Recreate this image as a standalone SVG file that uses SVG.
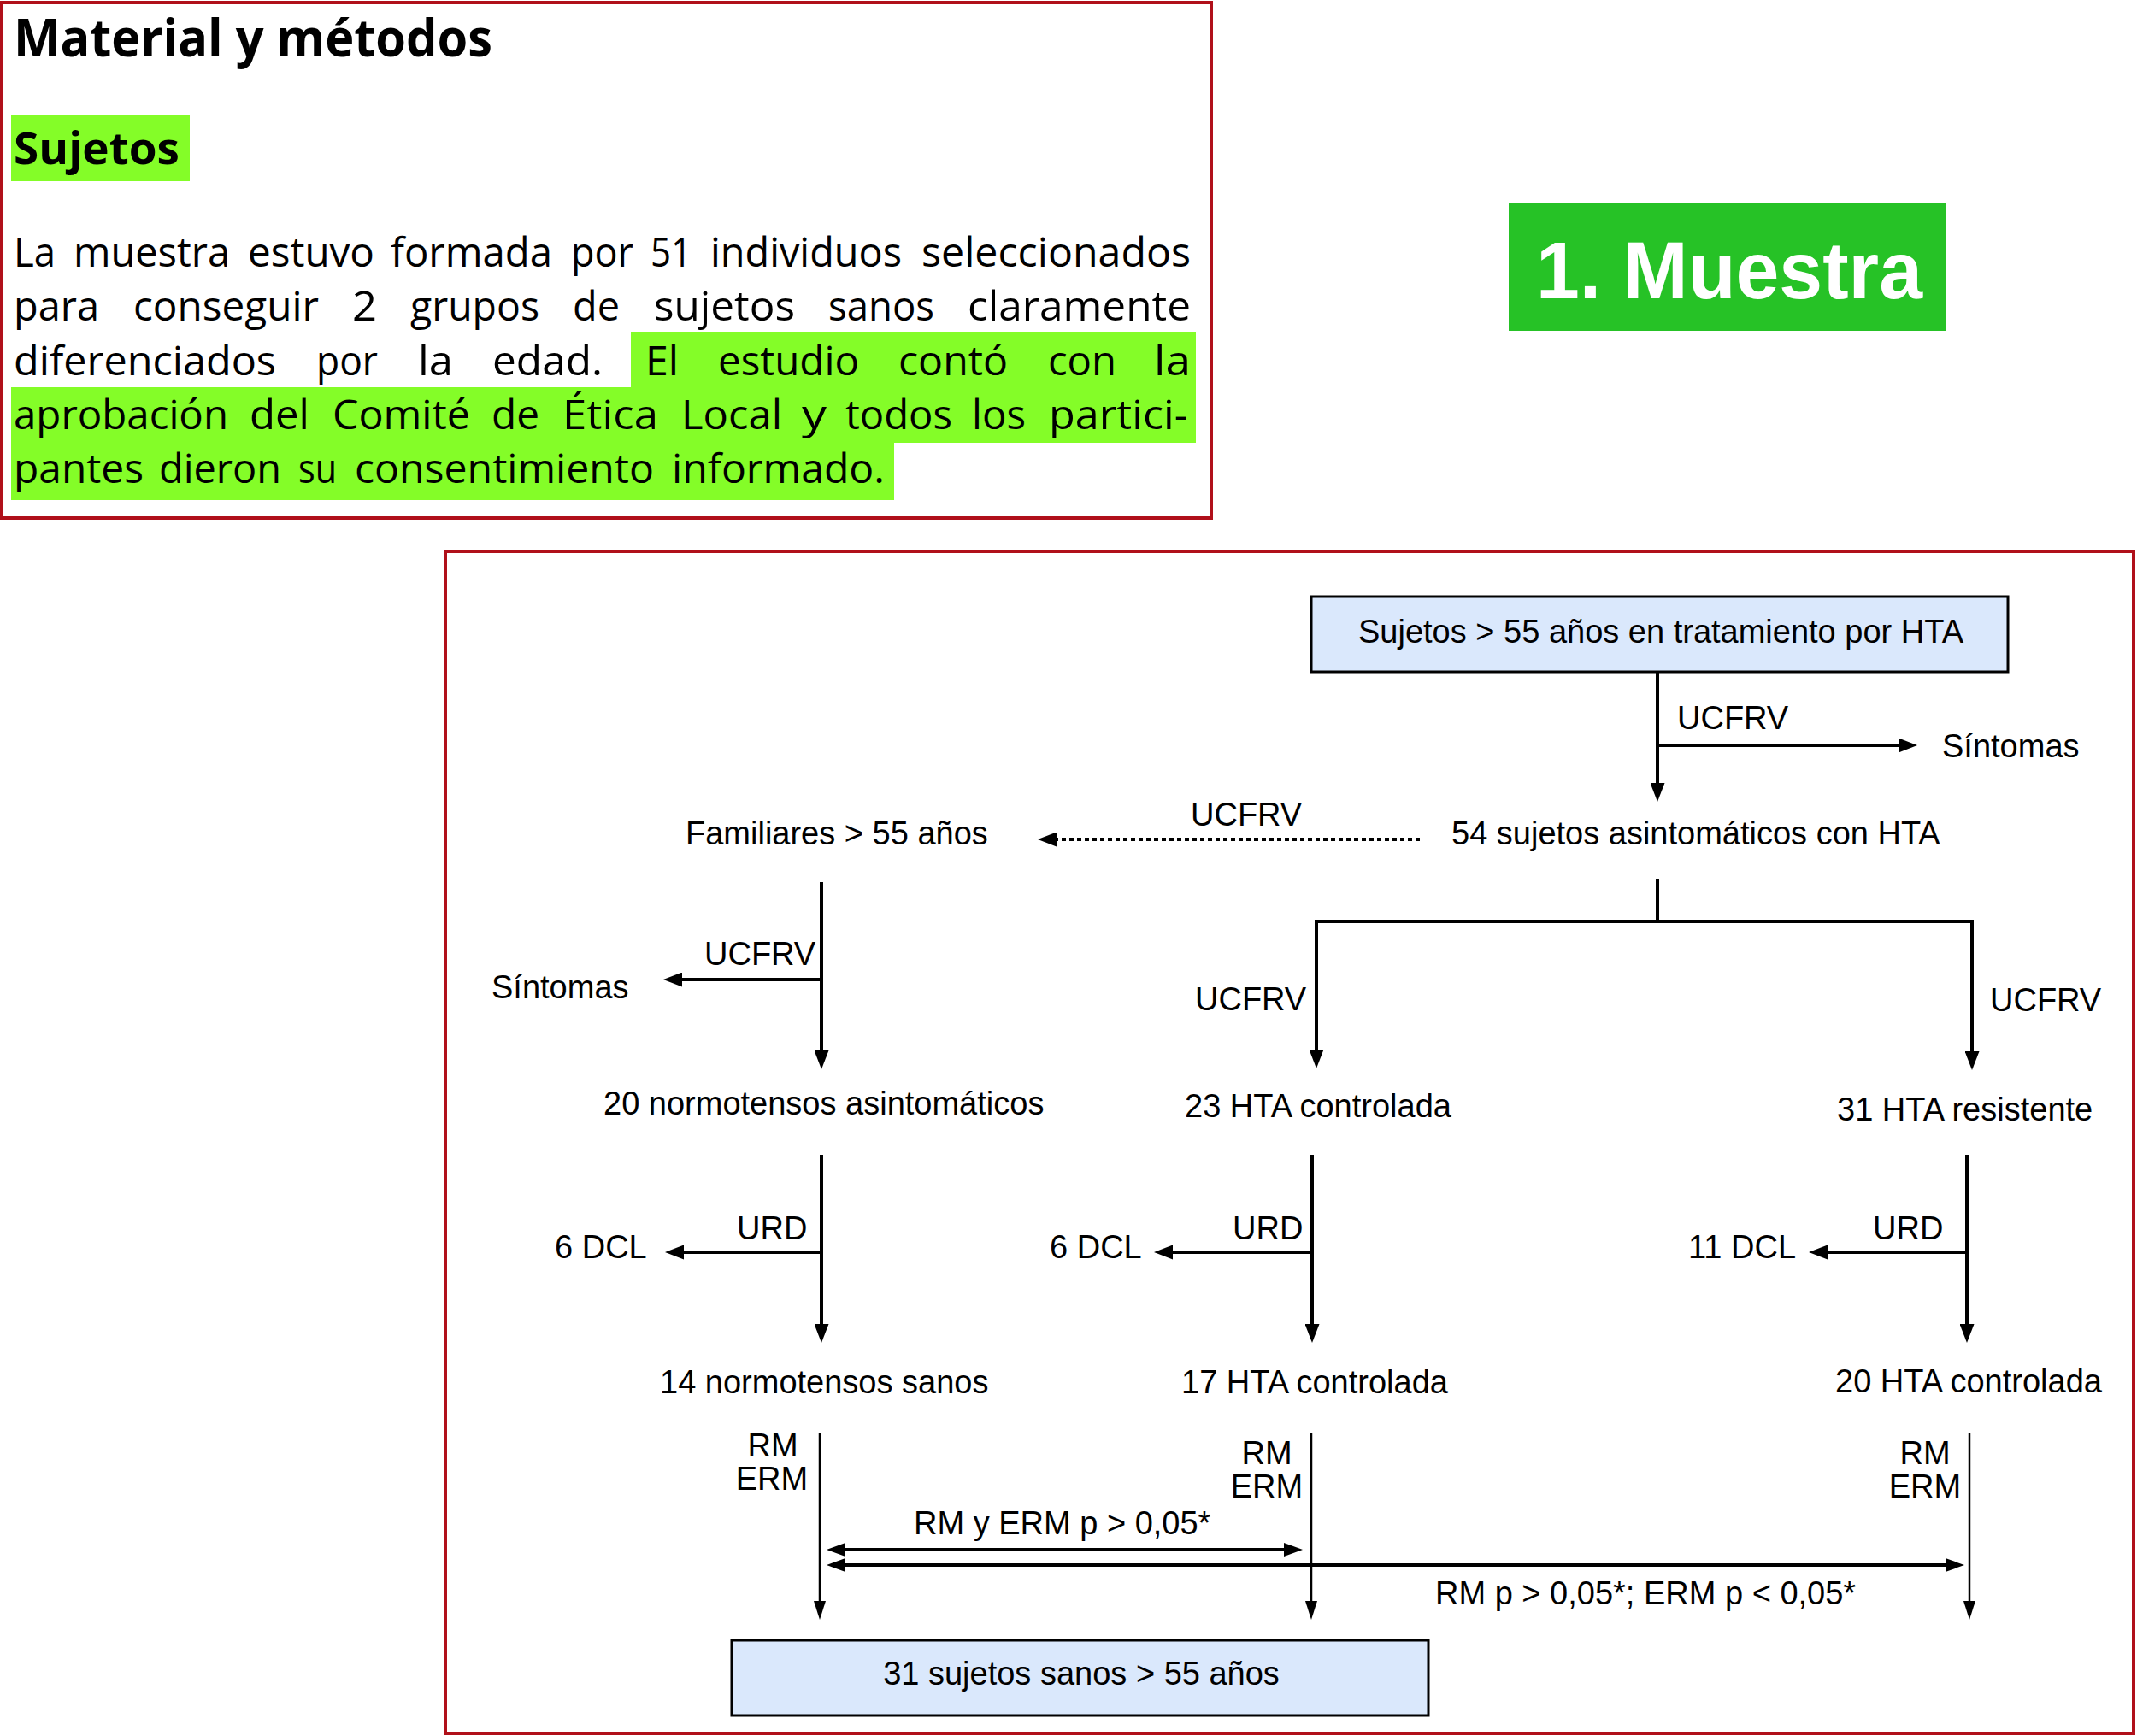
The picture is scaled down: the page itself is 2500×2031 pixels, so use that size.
<svg xmlns="http://www.w3.org/2000/svg" width="2500" height="2031" viewBox="0 0 2500 2031">
<style>
.frame{fill:none;stroke:#b0101a;stroke-width:4}
.hd{font-family:"Open Sans","Noto Sans",sans-serif;font-weight:bold;fill:#000}
.p{font-family:"Open Sans","Noto Sans",sans-serif;font-size:47px;fill:#000}
.t{font-family:"Liberation Sans",Arial,sans-serif;font-size:38px;fill:#000}
.node{fill:#dae8fc;stroke:#000;stroke-width:3}
.ln{fill:none;stroke:#000;stroke-width:4}
.thin{fill:none;stroke:#000;stroke-width:2.5}
</style>
<defs>
<marker id="ah" markerUnits="userSpaceOnUse" markerWidth="22" markerHeight="17" refX="12" refY="8.5" orient="auto"><path d="M0,0 L22,8.5 L0,17 z" fill="#000"/></marker>
<marker id="ahs" markerUnits="userSpaceOnUse" markerWidth="22" markerHeight="14" refX="12" refY="7" orient="auto"><path d="M0,0 L22,7 L0,14 z" fill="#000"/></marker>
<marker id="ahd" markerUnits="userSpaceOnUse" markerWidth="22" markerHeight="16" refX="12" refY="8" orient="auto-start-reverse"><path d="M0,0 L22,8 L0,16 z" fill="#000"/></marker>
</defs>
<rect width="2500" height="2031" fill="#fff"/>

<g id="intro">
<rect class="frame" x="2" y="3" width="1415" height="603"/>
<text class="hd" x="16" y="66" font-size="60" textLength="560" lengthAdjust="spacingAndGlyphs">Material y métodos</text>
<rect x="13" y="135" width="209" height="77" fill="#84fd28"/>
<text class="hd" x="16" y="192" font-size="52" textLength="194" lengthAdjust="spacingAndGlyphs">Sujetos</text>
<path d="M738,388 H1399 V518 H1046 V585 H13 V453 H738 Z" fill="#84fd28"/>
<g class="p">
<text x="16" y="312" textLength="49" lengthAdjust="spacingAndGlyphs">La</text>
<text x="86" y="312" textLength="183" lengthAdjust="spacingAndGlyphs">muestra</text>
<text x="290" y="312" textLength="148" lengthAdjust="spacingAndGlyphs">estuvo</text>
<text x="457" y="312" textLength="189" lengthAdjust="spacingAndGlyphs">formada</text>
<text x="668" y="312" textLength="73" lengthAdjust="spacingAndGlyphs">por</text>
<text x="761" y="312" textLength="48" lengthAdjust="spacingAndGlyphs">51</text>
<text x="831" y="312" textLength="224" lengthAdjust="spacingAndGlyphs">individuos</text>
<text x="1078" y="312" textLength="315" lengthAdjust="spacingAndGlyphs">seleccionados</text>

<text x="16" y="375" textLength="100" lengthAdjust="spacingAndGlyphs">para</text>
<text x="156" y="375" textLength="217" lengthAdjust="spacingAndGlyphs">conseguir</text>
<text x="412" y="375" textLength="29" lengthAdjust="spacingAndGlyphs">2</text>
<text x="480" y="375" textLength="151" lengthAdjust="spacingAndGlyphs">grupos</text>
<text x="670" y="375" textLength="55" lengthAdjust="spacingAndGlyphs">de</text>
<text x="765" y="375" textLength="165" lengthAdjust="spacingAndGlyphs">sujetos</text>
<text x="969" y="375" textLength="124" lengthAdjust="spacingAndGlyphs">sanos</text>
<text x="1132" y="375" textLength="261" lengthAdjust="spacingAndGlyphs">claramente</text>

<text x="16" y="439" textLength="307" lengthAdjust="spacingAndGlyphs">diferenciados</text>
<text x="370" y="439" textLength="72" lengthAdjust="spacingAndGlyphs">por</text>
<text x="489" y="439" textLength="41" lengthAdjust="spacingAndGlyphs">la</text>
<text x="576" y="439" textLength="129" lengthAdjust="spacingAndGlyphs">edad.</text>
<text x="755" y="439" textLength="39" lengthAdjust="spacingAndGlyphs">El</text>
<text x="840" y="439" textLength="165" lengthAdjust="spacingAndGlyphs">estudio</text>
<text x="1051" y="439" textLength="128" lengthAdjust="spacingAndGlyphs">contó</text>
<text x="1226" y="439" textLength="80" lengthAdjust="spacingAndGlyphs">con</text>
<text x="1350" y="439" textLength="43" lengthAdjust="spacingAndGlyphs">la</text>

<text x="16" y="502" textLength="251" lengthAdjust="spacingAndGlyphs">aprobación</text>
<text x="292" y="502" textLength="70" lengthAdjust="spacingAndGlyphs">del</text>
<text x="389" y="502" textLength="161" lengthAdjust="spacingAndGlyphs">Comité</text>
<text x="575" y="502" textLength="56" lengthAdjust="spacingAndGlyphs">de</text>
<text x="658" y="502" textLength="112" lengthAdjust="spacingAndGlyphs">Ética</text>
<text x="797" y="502" textLength="118" lengthAdjust="spacingAndGlyphs">Local</text>
<text x="938" y="502" textLength="29" lengthAdjust="spacingAndGlyphs">y</text>
<text x="989" y="502" textLength="125" lengthAdjust="spacingAndGlyphs">todos</text>
<text x="1137" y="502" textLength="63" lengthAdjust="spacingAndGlyphs">los</text>
<text x="1227" y="502" textLength="163" lengthAdjust="spacingAndGlyphs">partici-</text>

<text x="16" y="565" textLength="152" lengthAdjust="spacingAndGlyphs">pantes</text>
<text x="186" y="565" textLength="143" lengthAdjust="spacingAndGlyphs">dieron</text>
<text x="349" y="565" textLength="45" lengthAdjust="spacingAndGlyphs">su</text>
<text x="415" y="565" textLength="350" lengthAdjust="spacingAndGlyphs">consentimiento</text>
<text x="786" y="565" textLength="249" lengthAdjust="spacingAndGlyphs">informado.</text>
</g>
</g>

<g id="title">
<rect x="1765" y="238" width="512" height="149" fill="#26c226"/>
<text x="1797" y="349" font-family="'Liberation Sans',Arial,sans-serif" font-weight="bold" font-size="95" fill="#fff" textLength="452" lengthAdjust="spacingAndGlyphs">1. Muestra</text>
</g>

<rect id="diagram-frame" class="frame" x="521" y="645" width="1975" height="1383"/>

<g id="connectors">
<path class="ln" d="M1939,787 V928" marker-end="url(#ah)"/>
<path class="ln" d="M1939,872 H2233" marker-end="url(#ah)"/>
<path d="M1661,982 H1224" fill="none" stroke="#000" stroke-width="4" stroke-dasharray="5 4" marker-end="url(#ah)"/>
<path class="ln" d="M1939,1028 V1078"/>
<path class="ln" d="M1540,1078 H2307" stroke-linecap="square"/>
<path class="ln" d="M1540,1078 V1240" marker-end="url(#ah)"/>
<path class="ln" d="M2307,1078 V1242" marker-end="url(#ah)"/>
<path class="ln" d="M961,1032 V1241" marker-end="url(#ah)"/>
<path class="ln" d="M961,1146 H786" marker-end="url(#ah)"/>
<path class="ln" d="M961,1351 V1561" marker-end="url(#ah)"/>
<path class="ln" d="M961,1465 H788" marker-end="url(#ah)"/>
<path class="ln" d="M1535,1351 V1561" marker-end="url(#ah)"/>
<path class="ln" d="M1535,1465 H1360" marker-end="url(#ah)"/>
<path class="ln" d="M2301,1351 V1561" marker-end="url(#ah)"/>
<path class="ln" d="M2301,1465 H2126" marker-end="url(#ah)"/>
<path class="thin" d="M959,1677 V1885" marker-end="url(#ahs)"/>
<path class="thin" d="M1534,1677 V1885" marker-end="url(#ahs)"/>
<path class="thin" d="M2304,1677 V1885" marker-end="url(#ahs)"/>
<path class="ln" d="M977,1813 H1514" marker-start="url(#ahd)" marker-end="url(#ahd)"/>
<path class="ln" d="M977,1831 H2288" marker-start="url(#ahd)" marker-end="url(#ahd)"/>
</g>

<g id="n-top">
<rect class="node" x="1534" y="698" width="815" height="88"/>
<text class="t" x="1943" y="752" text-anchor="middle">Sujetos &gt; 55 años en tratamiento por HTA</text>
</g>
<g id="n-sint1"><text class="t" x="2272" y="886">Síntomas</text></g>
<g id="n-54"><text class="t" x="1698" y="988">54 sujetos asintomáticos con HTA</text></g>
<g id="n-fam"><text class="t" x="802" y="988">Familiares &gt; 55 años</text></g>
<g id="n-sint2"><text class="t" x="575" y="1168">Síntomas</text></g>
<g id="n-20n"><text class="t" x="706" y="1304">20 normotensos asintomáticos</text></g>
<g id="n-23"><text class="t" x="1386" y="1307">23 HTA controlada</text></g>
<g id="n-31"><text class="t" x="2149" y="1311">31 HTA resistente</text></g>
<g id="n-dcl1"><text class="t" x="649" y="1472">6 DCL</text></g>
<g id="n-dcl2"><text class="t" x="1228" y="1472">6 DCL</text></g>
<g id="n-dcl3"><text class="t" x="1975" y="1472">11 DCL</text></g>
<g id="n-14"><text class="t" x="772" y="1630">14 normotensos sanos</text></g>
<g id="n-17"><text class="t" x="1382" y="1630">17 HTA controlada</text></g>
<g id="n-20h"><text class="t" x="2147" y="1629">20 HTA controlada</text></g>
<g id="n-bottom">
<rect class="node" x="856" y="1919" width="815" height="88"/>
<text class="t" x="1265" y="1971" text-anchor="middle">31 sujetos sanos &gt; 55 años</text>
</g>

<g id="labels">
<text class="t" x="1962" y="853">UCFRV</text>
<text class="t" x="1393" y="966">UCFRV</text>
<text class="t" x="824" y="1129">UCFRV</text>
<text class="t" x="1398" y="1182">UCFRV</text>
<text class="t" x="2328" y="1183">UCFRV</text>
<text class="t" x="862" y="1450">URD</text>
<text class="t" x="1442" y="1450">URD</text>
<text class="t" x="2191" y="1450">URD</text>
<text class="t" x="904" y="1704" text-anchor="middle">RM</text>
<text class="t" x="903" y="1743" text-anchor="middle">ERM</text>
<text class="t" x="1482" y="1713" text-anchor="middle">RM</text>
<text class="t" x="1482" y="1752" text-anchor="middle">ERM</text>
<text class="t" x="2252" y="1713" text-anchor="middle">RM</text>
<text class="t" x="2252" y="1752" text-anchor="middle">ERM</text>
<text class="t" x="1069" y="1795">RM y ERM p &gt; 0,05*</text>
<text class="t" x="1679" y="1877">RM p &gt; 0,05*; ERM p &lt; 0,05*</text>
</g>
</svg>
